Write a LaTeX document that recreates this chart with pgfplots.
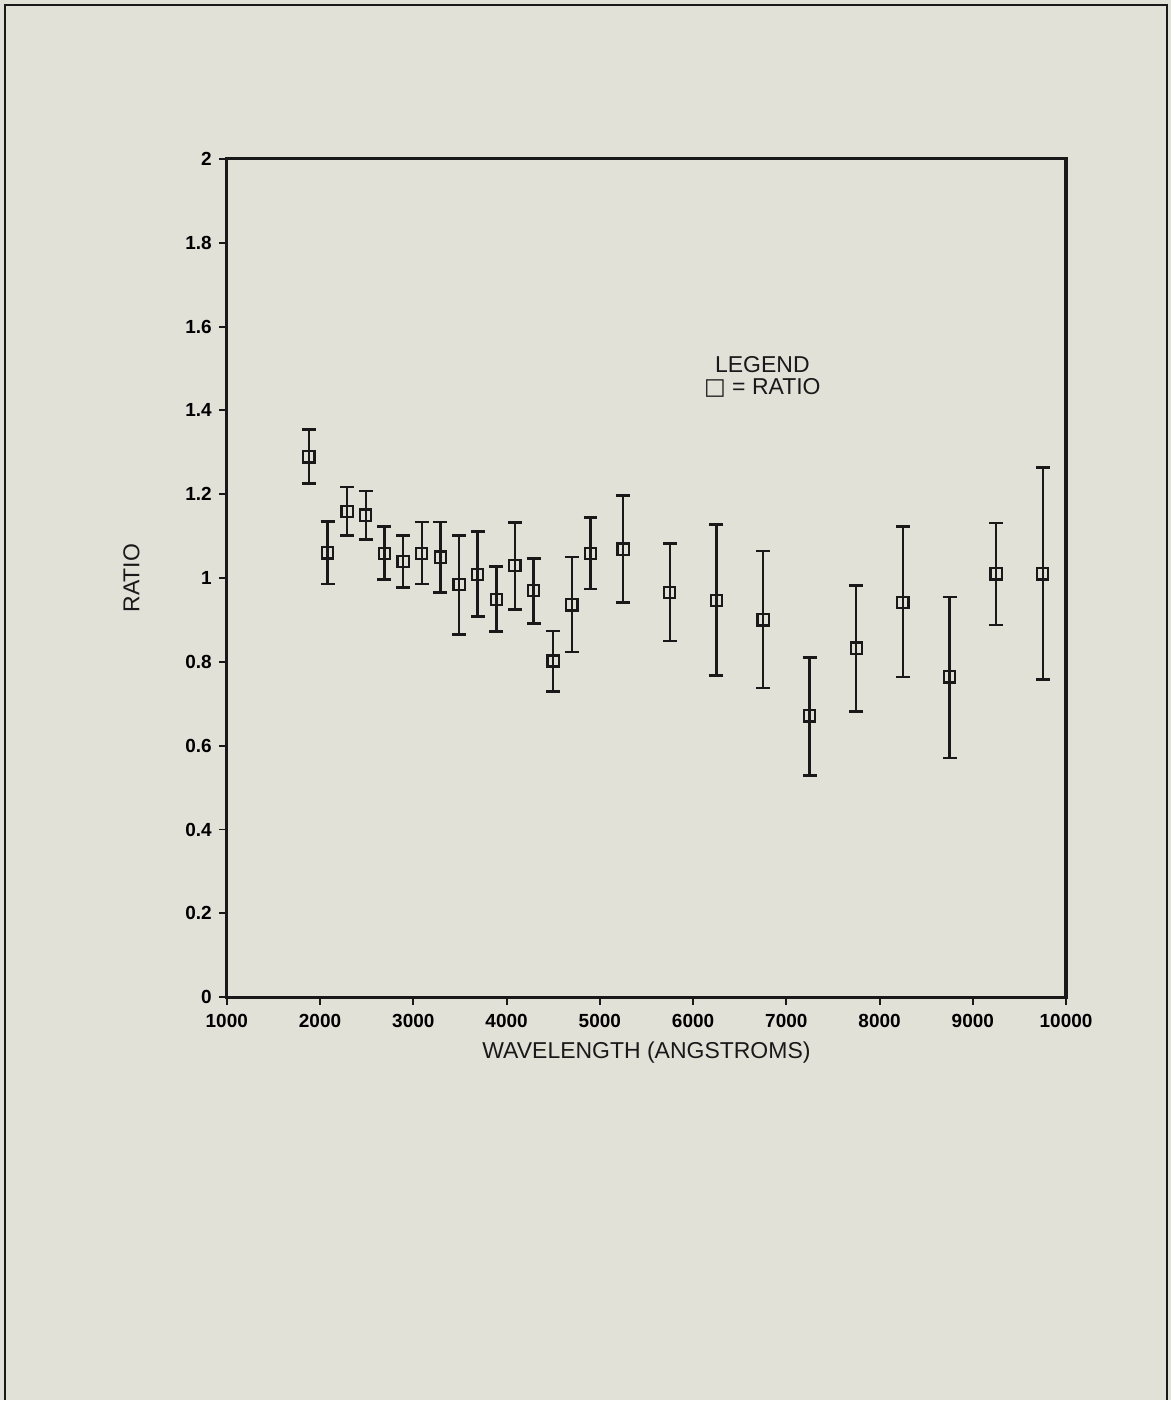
\documentclass[border=0pt]{standalone}
\usepackage{pgfplots}
\pgfplotsset{compat=1.18}
\usepackage{fontspec}
\setmainfont{Liberation Sans}
\newfontfamily\symfont{DejaVu Sans}
\definecolor{paper}{RGB}{226,225,216}
\definecolor{ink}{RGB}{25,25,25}
\pgfplotstableread{
x y ep em
1880 1.289 0.065 0.064
2080 1.060 0.075 0.074
2290 1.159 0.058 0.057
2490 1.150 0.058 0.058
2690 1.059 0.064 0.063
2890 1.040 0.062 0.062
3090 1.059 0.075 0.073
3290 1.050 0.084 0.085
3490 0.984 0.117 0.119
3690 1.009 0.102 0.101
3890 0.949 0.078 0.076
4090 1.030 0.102 0.105
4290 0.970 0.077 0.078
4500 0.802 0.072 0.073
4700 0.936 0.114 0.113
4900 1.059 0.085 0.085
5250 1.069 0.128 0.127
5750 0.966 0.116 0.116
6250 0.947 0.181 0.179
6750 0.900 0.164 0.162
7250 0.671 0.140 0.142
7750 0.833 0.149 0.151
8250 0.942 0.181 0.178
8750 0.764 0.191 0.193
9250 1.010 0.121 0.122
9750 1.010 0.253 0.252
}\ratio
\begin{document}
\begin{tikzpicture}[x=1pt,y=1pt]
\fill[paper] (0,0) rectangle (586,-700.5);
\draw[ink,line width=1.2pt] (2.5,-700.5) -- (2.5,-2.5) -- (584,-2.5) -- (584,-700.5);
\begin{axis}[
  at={(113.5pt,-499pt)}, anchor=south west,
  scale only axis, width=420pt, height=419.5pt,
  xmin=1000, xmax=10000, ymin=0, ymax=2,
  xtick={1000,2000,...,10000},
  ytick={0,0.2,...,2.0},
  yticklabels={0,0.2,0.4,0.6,0.8,1,1.2,1.4,1.6,1.8,2},
  xticklabel style={font=\fontsize{9.5}{11}\selectfont\bfseries, yshift=-1pt},
  yticklabel style={font=\fontsize{9.5}{11}\selectfont\bfseries},
  /pgf/number format/assume math mode=true,
  scaled x ticks=false,
  xticklabel={\pgfmathprintnumber[fixed,1000 sep={}]{\tick}},
  axis line style={ink,line width=1.6pt},
  tick style={ink,line width=1pt},
  tick align=outside, major tick length=4pt,
  xtick pos=bottom, ytick pos=left,
  xlabel={WAVELENGTH (ANGSTROMS)},
  ylabel={RATIO},
  label style={font=\fontsize{11.5}{13}\selectfont, ink},
  xlabel style={yshift=0pt},
  ylabel style={yshift=16pt},
  clip=false,
]
\addplot+[ink, only marks, mark=square, mark size=2.8pt,
  mark options={ink, line width=1.1pt, fill=paper},
  error bars/.cd, y dir=both, y explicit,
  error bar style={ink,line width=1.2pt},
  error mark options={rotate=90, mark size=3.5pt, line width=1.3pt, ink}]
  table[x=x, y=y, y error plus=ep, y error minus=em] {\ratio};
\node[font=\fontsize{11.5}{13}\selectfont, ink, align=center] at (axis cs:6743,1.48)
  {LEGEND\\[-2pt]{\symfont □} = RATIO};
\end{axis}
\end{tikzpicture}
\end{document}
